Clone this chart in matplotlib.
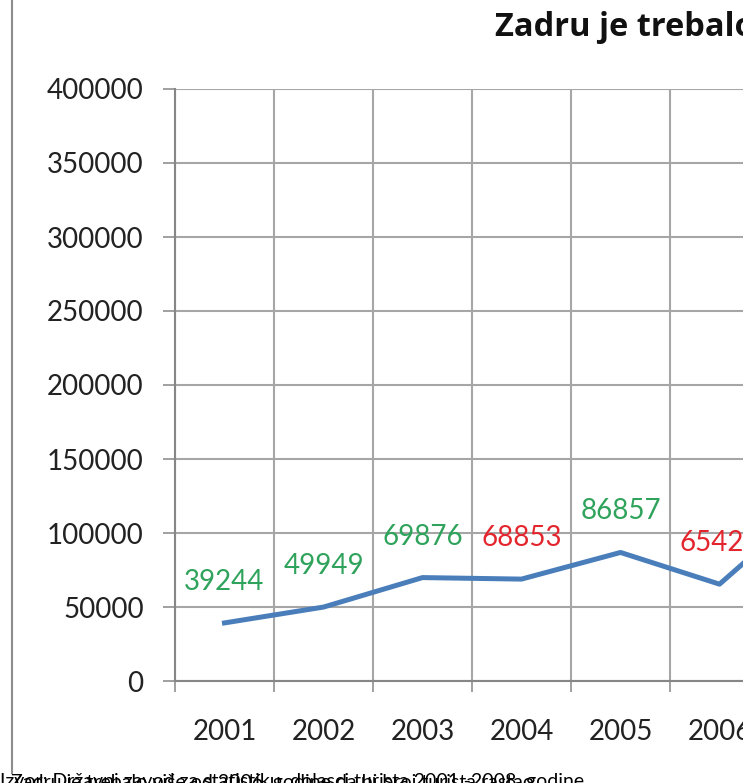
import matplotlib.pyplot as plt
from matplotlib.lines import Line2D
from matplotlib.ticker import MultipleLocator, FixedLocator

# data (2007 is mostly cut off, estimated from the line slope)
years = ['2001', '2002', '2003', '2004', '2005', '2006', '2007']
visitors = [39244, 49949, 69876, 68853, 86857, 65427, 124000]
label_colors = ['#2FA35C', '#2FA35C', '#2FA35C', '#E3262E', '#2FA35C', '#E3262E', '#2FA35C']
yticks = list(range(0, 400001, 50000))

W, H = 743, 783
plt.rcParams['font.family'] = ['Lato', 'DejaVu Sans']

fig = plt.figure(figsize=(W / 100, H / 100), dpi=100)

# plot area: left edge at x=175, zero at y=681, top at y=89, 99 px per category
n = len(years)
left, bottom, top = 175, 681, 89
ax = fig.add_axes([left / W, (H - bottom) / H, n * 99 / W, (bottom - top) / H])

xs = list(range(n))
ax.plot(xs, visitors, color='#4A7EBB', lw=3.6, solid_joinstyle='round', zorder=3, clip_on=False)

for x, v, c in zip(xs, visitors, label_colors):
    ax.annotate(str(v), (x, v), xytext=(0, 29.5), textcoords='offset points',
                ha='center', va='center', fontsize=20, color=c, zorder=4)

ax.set_xlim(-0.5, n - 0.5)
ax.set_ylim(0, 400000)
ax.yaxis.set_major_locator(FixedLocator(yticks))
ax.set_yticklabels([str(t) for t in yticks])
ax.set_xticks(xs)
ax.set_xticklabels(years)
ax.xaxis.set_minor_locator(MultipleLocator(1, offset=0.5))

ax.grid(axis='y', which='major', color='#A6A6A6', lw=1.5)
ax.grid(axis='x', which='minor', color='#A6A6A6', lw=1.5)
ax.set_axisbelow(True)

for s in ['top', 'right']:
    ax.spines[s].set_visible(False)
for s in ['left', 'bottom']:
    ax.spines[s].set_color('#868686')
    ax.spines[s].set_linewidth(1.5)

ax.tick_params(axis='y', which='major', length=8.6, width=1.1, color='#868686',
               pad=14, labelsize=20, labelcolor='#222222')
ax.tick_params(axis='x', which='major', length=0, pad=27, labelsize=20, labelcolor='#222222')
ax.tick_params(axis='x', which='minor', length=8, width=1.1, color='#868686')

# title, only its start is inside the crop
fig.text(495 / W, 1 - 28 / H, 'Zadru je trebalo više', fontsize=23.5, fontweight='bold',
         family=['Open Sans', 'DejaVu Sans'], ha='left', va='center', color='#111111')

# chart-area border on the left
fig.add_artist(Line2D([12 / W, 12 / W], [1 - 773 / H, 1], transform=fig.transFigure,
                      color='#8C8C8C', lw=1.5))

# caption below the chart, mostly cut off by the bottom edge
fig.text(0.0, 1 - 787 / H, 'Izvor: Državni zavod za statistiku, dolasci turista 2001.-2008. godine',
         fontsize=14, ha='left', va='baseline', color='black')
fig.text(0.015, 1 - 788 / H, 'Zadru je trebalo više od 2006. godine da bi broj turista rastao',
         fontsize=14, ha='left', va='baseline', color='black')

fig.savefig('out.png', dpi=100)
